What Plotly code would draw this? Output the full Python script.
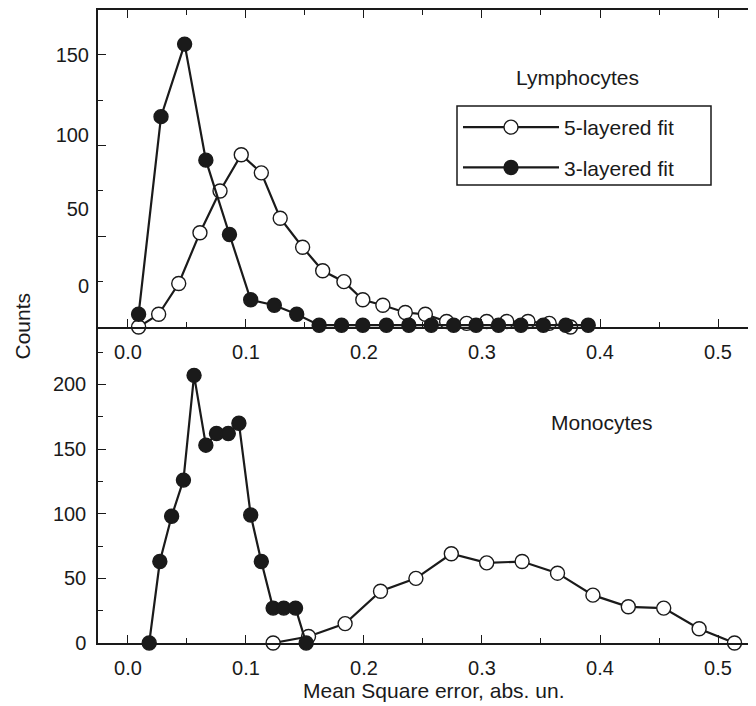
import plotly.graph_objects as go

# ---- data ----
# Top panel: Lymphocytes
lym_x5 = [0.009, 0.026, 0.043, 0.061, 0.078, 0.096, 0.113, 0.129, 0.148, 0.165, 0.183,
          0.199, 0.216, 0.235, 0.252, 0.270, 0.287, 0.304, 0.321, 0.339, 0.357, 0.375]
lym_y5 = [0, 7, 24, 52, 75, 95, 85, 60, 44, 31, 25,
          15, 12, 8, 7, 3, 2, 3, 3, 3, 2, 0]
lym_x3 = [0.009, 0.028, 0.048, 0.066, 0.086, 0.104, 0.124, 0.143, 0.162, 0.181, 0.199,
          0.219, 0.238, 0.257, 0.276, 0.295, 0.314, 0.333, 0.352, 0.371, 0.390]
lym_y3 = [7, 116, 156, 92, 51, 15, 12, 7, 1, 1, 1,
          1, 1, 1, 1, 1, 1, 1, 1, 1, 1]

# Bottom panel: Monocytes
mon_x5 = [0.123, 0.153, 0.184, 0.214, 0.244, 0.274, 0.304, 0.334, 0.364, 0.394,
          0.424, 0.454, 0.484, 0.514]
mon_y5 = [0, 5, 15, 40, 50, 69, 62, 63, 54, 37, 28, 27, 11, 0]
mon_x3 = [0.018, 0.027, 0.037, 0.047, 0.056, 0.066, 0.075, 0.085, 0.094, 0.104,
          0.113, 0.123, 0.132, 0.142, 0.151]
mon_y3 = [0, 63, 98, 126, 207, 153, 162, 162, 170, 99, 63, 27, 27, 27, 0]

# Tick labels as printed on the original top panel (labels sit off their ticks)
top_label_pos = [22.6, 65, 106, 150]
top_label_text = ["0", "50", "100", "150"]

series_names = ["5-layered fit", "3-layered fit"]
panel_titles = ["Lymphocytes", "Monocytes"]
x_title = "Mean Square error, abs. un."
y_title = "Counts"

# ---- style ----
FONT = "Liberation Sans, Arial, sans-serif"
INK = "#1a1a1a"
LW = 2.2
MS = 14

def style(open_marker):
    return dict(
        mode="lines+markers",
        line=dict(color=INK, width=LW),
        marker=dict(size=MS, color="white" if open_marker else INK,
                    line=dict(color=INK, width=1.4)),
        cliponaxis=False,
    )

fig = go.Figure()
fig.add_trace(go.Scatter(x=lym_x5, y=lym_y5, name=series_names[0], xaxis="x", yaxis="y",
                         legendgroup="a", **style(True)))
fig.add_trace(go.Scatter(x=lym_x3, y=lym_y3, name=series_names[1], xaxis="x", yaxis="y3",
                         legendgroup="b", **style(False)))
fig.add_trace(go.Scatter(x=mon_x5, y=mon_y5, name=series_names[0], xaxis="x2", yaxis="y2",
                         showlegend=False, **style(True)))
fig.add_trace(go.Scatter(x=mon_x3, y=mon_y3, name=series_names[1], xaxis="x2", yaxis="y2",
                         showlegend=False, **style(False)))

split = 316 / 633
xr = [-0.0254, 0.5322]
ytop = [0, 174.8]

common_x = dict(
    range=xr, tick0=0, dtick=0.1, tickformat=".1f",
    ticks="inside", ticklen=8, tickwidth=1.2, tickcolor=INK,
    minor=dict(dtick=0.05, ticks="inside", ticklen=5, tickwidth=1.2, tickcolor=INK),
    showline=True, linecolor=INK, linewidth=1.5,
    showgrid=False, zeroline=False, automargin=False,
    tickfont=dict(family=FONT, size=20, color=INK),
    ticklabelstandoff=6,
)
common_y = dict(
    ticks="inside", ticklen=8, tickwidth=1.2, tickcolor=INK,
    showline=True, linecolor=INK, linewidth=1.5,
    showgrid=False, zeroline=False, automargin=False,
    tickfont=dict(family=FONT, size=20, color=INK),
)

def px_x(p):  # page pixel -> paper x
    return (p - 98) / 658

def px_y(p):  # page pixel -> paper y
    return (643 - p) / 633

fig.update_layout(
    width=748, height=698,
    margin=dict(l=90, r=0, t=2, b=63),
    paper_bgcolor="white", plot_bgcolor="white",
    font=dict(family=FONT, size=20, color=INK),
    xaxis=dict(domain=[0, 1], anchor="y", mirror="ticks", **common_x),
    xaxis2=dict(domain=[0, 1], anchor="y2", **common_x),
    yaxis=dict(domain=[split, 1], anchor="x", range=ytop,
               tickvals=[0, 50, 100, 150], showticklabels=False,
               minor=dict(tickvals=[25, 75, 125], ticks="inside", ticklen=5,
                          tickwidth=1.2, tickcolor=INK),
               **common_y),
    yaxis3=dict(overlaying="y", anchor="x", side="left", range=ytop,
                tickmode="array", tickvals=top_label_pos, ticktext=top_label_text,
                ticks="", showline=False, showgrid=False, zeroline=False, automargin=False,
                tickfont=dict(family=FONT, size=20, color=INK), ticklabelstandoff=8),
    yaxis2=dict(domain=[0, split], anchor="x2", range=[0, 244.4], tick0=0, dtick=50,
                minor=dict(dtick=25, ticks="inside", ticklen=5, tickwidth=1.2, tickcolor=INK),
                ticklabelstandoff=6,
                **common_y),
    legend=dict(x=px_x(458), y=px_y(107), xanchor="left", yanchor="top",
                borderwidth=0, bgcolor="rgba(0,0,0,0)",
                font=dict(family=FONT, size=21, color=INK),
                itemwidth=96, tracegroupgap=10),
    showlegend=True,
)

# legend frame
fig.add_shape(type="rect", xref="paper", yref="paper",
              x0=px_x(457), x1=px_x(711), y0=px_y(185), y1=px_y(106),
              line=dict(color=INK, width=1.5), fillcolor="white", layer="below")

ann_font = dict(family=FONT, size=21, color=INK)
fig.add_annotation(text=panel_titles[0], xref="paper", yref="paper",
                   x=px_x(577), y=px_y(78), showarrow=False,
                   xanchor="center", yanchor="middle", font=ann_font)
fig.add_annotation(text=panel_titles[1], xref="paper", yref="paper",
                   x=px_x(602), y=px_y(422), showarrow=False,
                   xanchor="center", yanchor="middle", font=ann_font)
fig.add_annotation(text=x_title, xref="paper", yref="paper",
                   x=px_x(434), y=px_y(691), showarrow=False,
                   xanchor="center", yanchor="middle", font=ann_font)
fig.add_annotation(text=y_title, xref="paper", yref="paper",
                   x=px_x(22), y=0.5, showarrow=False, textangle=-90,
                   xanchor="center", yanchor="middle", font=ann_font)

fig.write_html("out.html")
